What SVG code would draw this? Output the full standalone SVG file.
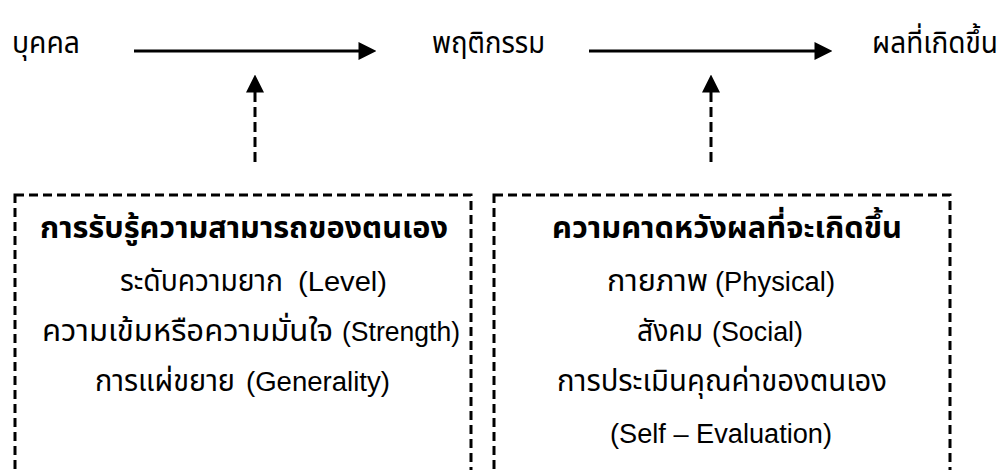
<svg xmlns="http://www.w3.org/2000/svg" width="1006" height="470" viewBox="0 0 1006 470">
  <style>
    text { font-family: "Liberation Sans", "Noto Sans Thai", "Noto Sans", "DejaVu Sans", sans-serif; fill: #000; }
    .th { font-size: 30px; }
    .ttl { font-size: 30px; font-weight: bold; }
    .lat { font-size: 27px; }
    .box { fill: none; stroke: #000; stroke-width: 3; stroke-dasharray: 9 5; }
    .solid { stroke: #000; stroke-width: 3.2; fill: none; }
    .dash { stroke: #000; stroke-width: 3; fill: none; stroke-dasharray: 10 5; }
  </style>
  <defs>
    <marker id="ah" markerUnits="userSpaceOnUse" markerWidth="18" markerHeight="18" viewBox="0 0 17 17" refX="0.5" refY="8.5" orient="auto">
      <path d="M0,0 L17,8.5 L0,17 Z" fill="#000" stroke="none"/>
    </marker>
  </defs>
  <rect width="1006" height="470" fill="#fff"/>

  <g id="connectors">
    <line class="solid" x1="134" y1="51" x2="359" y2="51" marker-end="url(#ah)"/>
    <line class="solid" x1="589" y1="51" x2="815" y2="51" marker-end="url(#ah)"/>
    <line class="dash" x1="255" y1="162" x2="255" y2="92" marker-end="url(#ah)"/>
    <line class="dash" x1="711" y1="162" x2="711" y2="92" marker-end="url(#ah)"/>
  </g>

  <g id="n-person">
    <text class="th" x="12" y="53" textLength="68" lengthAdjust="spacingAndGlyphs">บุคคล</text>
  </g>
  <g id="n-behavior">
    <text class="th" x="432" y="53" textLength="113" lengthAdjust="spacingAndGlyphs">พฤติกรรม</text>
  </g>
  <g id="n-outcome">
    <text class="th" x="872" y="53" style="font-size:29.5px" textLength="126" lengthAdjust="spacingAndGlyphs">ผลที่เกิดขึ้น</text>
  </g>

  <g id="n-efficacy">
    <rect class="box" x="15" y="195" width="456" height="290"/>
    <text class="ttl" x="40" y="238" textLength="408" lengthAdjust="spacingAndGlyphs">การรับรู้ความสามารถของตนเอง</text>
    <text class="th" x="120" y="291" textLength="163" lengthAdjust="spacingAndGlyphs">ระดับความยาก</text>
    <text class="lat" x="298" y="291" textLength="89" lengthAdjust="spacingAndGlyphs">(Level)</text>
    <text class="th" x="42" y="341" textLength="291" lengthAdjust="spacingAndGlyphs">ความเข้มหรือความมั่นใจ</text>
    <text class="lat" x="342" y="341" textLength="118" lengthAdjust="spacingAndGlyphs">(Strength)</text>
    <text class="th" x="95" y="391" textLength="140" lengthAdjust="spacingAndGlyphs">การแผ่ขยาย</text>
    <text class="lat" x="246" y="391" textLength="144" lengthAdjust="spacingAndGlyphs">(Generality)</text>
  </g>

  <g id="n-expectation">
    <rect class="box" x="494" y="195" width="456" height="290"/>
    <text class="ttl" x="552" y="238" textLength="350" lengthAdjust="spacingAndGlyphs">ความคาดหวังผลที่จะเกิดขึ้น</text>
    <text class="th" x="607" y="291" textLength="101" lengthAdjust="spacingAndGlyphs">กายภาพ</text>
    <text class="lat" x="715" y="291" textLength="120" lengthAdjust="spacingAndGlyphs">(Physical)</text>
    <text class="th" x="637" y="341" textLength="66" lengthAdjust="spacingAndGlyphs">สังคม</text>
    <text class="lat" x="712" y="341" textLength="91" lengthAdjust="spacingAndGlyphs">(Social)</text>
    <text class="th" x="557" y="391" textLength="330" lengthAdjust="spacingAndGlyphs">การประเมินคุณค่าของตนเอง</text>
    <text class="lat" x="610" y="443" textLength="222" lengthAdjust="spacingAndGlyphs">(Self – Evaluation)</text>
  </g>
</svg>
